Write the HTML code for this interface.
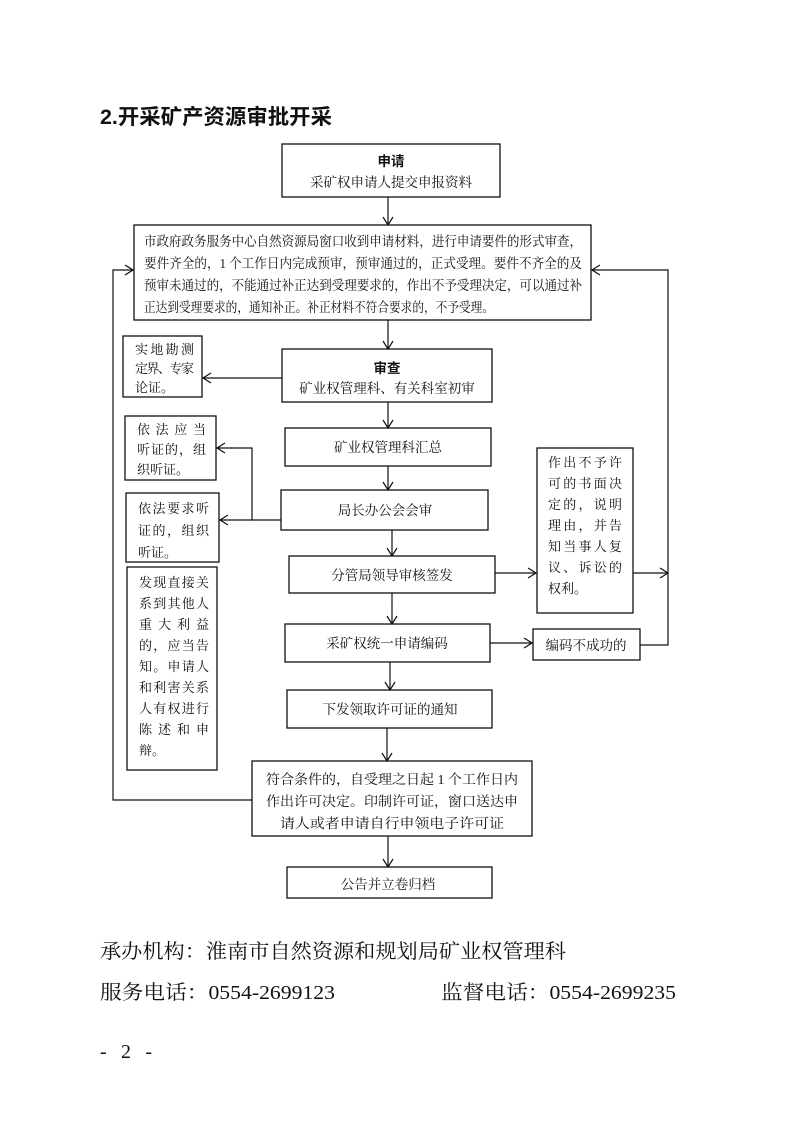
<!DOCTYPE html>
<html><head><meta charset="utf-8"><style>
html,body{margin:0;padding:0;background:#fff}
svg{display:block}
text{font-family:"Liberation Serif","Noto Serif CJK SC","Noto Sans CJK SC",serif;fill:#111}
.s{font-family:"Liberation Sans","Noto Sans CJK SC",sans-serif}
</style></head><body>
<svg width="793" height="1122" viewBox="0 0 793 1122" xmlns="http://www.w3.org/2000/svg">
<defs><marker id="a" markerWidth="10" markerHeight="12" refX="9" refY="6" orient="auto" markerUnits="userSpaceOnUse"><path d="M1,1 L9,6 L1,11" fill="none" stroke="#111" stroke-width="1.2"/></marker></defs>
<text x="100" y="124" font-size="21" font-weight="bold" class="s" textLength="232" lengthAdjust="spacingAndGlyphs">2.开采矿产资源审批开采</text>
<g fill="none" stroke="#111" stroke-width="1.3">
<rect x="282" y="144" width="218" height="53"/>
<rect x="134" y="225" width="457" height="95"/>
<rect x="123" y="336" width="79" height="61"/>
<rect x="282" y="349" width="210" height="53"/>
<rect x="285" y="428" width="206" height="38"/>
<rect x="125" y="416" width="91" height="64"/>
<rect x="281" y="490" width="207" height="40"/>
<rect x="126" y="493" width="93" height="69"/>
<rect x="289" y="556" width="206" height="37"/>
<rect x="537" y="448" width="96" height="165"/>
<rect x="285" y="624" width="205" height="38"/>
<rect x="533" y="629" width="107" height="31"/>
<rect x="127" y="567" width="90" height="203"/>
<rect x="287" y="690" width="205" height="38"/>
<rect x="252" y="761" width="280" height="75"/>
<rect x="287" y="867" width="205" height="31"/>
</g>
<g fill="none" stroke="#111" stroke-width="1.2" marker-end="url(#a)">
<path d="M388 197 V225"/>
<path d="M388 320 V349"/>
<path d="M282 378 H203"/>
<path d="M388 402 V428"/>
<path d="M388 466 V490"/>
<path d="M281 520 H252 V448 H217"/>
<path d="M252 520 H220"/>
<path d="M392 530 V556"/>
<path d="M495 573 H536"/>
<path d="M633 573 H668"/>
<path d="M392 593 V624"/>
<path d="M490 643 H532"/>
<path d="M640 645 H668 V270 H592"/>
<path d="M390 662 V690"/>
<path d="M387 728 V761"/>
<path d="M252 800 H113 V270 H133"/>
<path d="M388 836 V867"/>
</g>
<g font-size="13.5" text-anchor="middle">
<text x="391" y="166" font-weight="bold" class="s">申请</text>
<text x="391" y="187">采矿权申请人提交申报资料</text>
<text x="387" y="373" font-weight="bold" class="s">审查</text>
<text x="387" y="393">矿业权管理科、有关科室初审</text>
<text x="388" y="452">矿业权管理科汇总</text>
<text x="385" y="515">局长办公会会审</text>
<text x="392" y="580">分管局领导审核签发</text>
<text x="387" y="648">采矿权统一申请编码</text>
<text x="586" y="650">编码不成功的</text>
<text x="390" y="714">下发领取许可证的通知</text>
<text x="388" y="889">公告并立卷归档</text>
</g>
<g font-size="13.5">
<text x="144" y="246" textLength="438" lengthAdjust="spacingAndGlyphs">市政府政务服务中心自然资源局窗口收到申请材料，进行申请要件的形式审查，</text>
<text x="144" y="268" textLength="438" lengthAdjust="spacingAndGlyphs">要件齐全的，1 个工作日内完成预审，预审通过的，正式受理。要件不齐全的及</text>
<text x="144" y="290" textLength="438" lengthAdjust="spacingAndGlyphs">预审未通过的，不能通过补正达到受理要求的，作出不予受理决定，可以通过补</text>
<text x="144" y="312" textLength="350" lengthAdjust="spacingAndGlyphs">正达到受理要求的，通知补正。补正材料不符合要求的，不予受理。</text>
</g>
<g font-size="13">
<text x="135" y="354" textLength="59">实地勘测</text>
<text x="135" y="373" textLength="59">定界、专家</text>
<text x="135" y="392">论证。</text>
<text x="137" y="434" textLength="69">依法应当</text>
<text x="137" y="454" textLength="69">听证的，组</text>
<text x="137" y="474">织听证。</text>
<text x="138" y="513" textLength="71">依法要求听</text>
<text x="138" y="535" textLength="71">证的，组织</text>
<text x="138" y="557">听证。</text>
<text x="139" y="587" textLength="70">发现直接关</text>
<text x="139" y="608" textLength="70">系到其他人</text>
<text x="139" y="629" textLength="70">重大利益</text>
<text x="139" y="650" textLength="70">的，应当告</text>
<text x="139" y="671" textLength="70">知。申请人</text>
<text x="139" y="692" textLength="70">和利害关系</text>
<text x="139" y="713" textLength="70">人有权进行</text>
<text x="139" y="734" textLength="70">陈述和申</text>
<text x="139" y="755">辩。</text>
<text x="548" y="467" textLength="74">作出不予许</text>
<text x="548" y="488" textLength="74">可的书面决</text>
<text x="548" y="509" textLength="74">定的，说明</text>
<text x="548" y="530" textLength="74">理由，并告</text>
<text x="548" y="551" textLength="74">知当事人复</text>
<text x="548" y="572" textLength="74">议、诉讼的</text>
<text x="548" y="593">权利。</text>
</g>
<g font-size="13.5">
<text x="266" y="784" textLength="252" lengthAdjust="spacingAndGlyphs">符合条件的，自受理之日起 1 个工作日内</text>
<text x="266" y="806" textLength="252" lengthAdjust="spacingAndGlyphs">作出许可决定。印制许可证，窗口送达申</text>
<text x="280" y="828" textLength="224" lengthAdjust="spacingAndGlyphs">请人或者申请自行申领电子许可证</text>
</g>
<g font-size="20">
<text x="100" y="958" textLength="466" lengthAdjust="spacingAndGlyphs">承办机构：淮南市自然资源和规划局矿业权管理科</text>
<text x="100" y="999" textLength="235" lengthAdjust="spacingAndGlyphs">服务电话：0554-2699123</text>
<text x="441" y="999" textLength="235" lengthAdjust="spacingAndGlyphs">监督电话：0554-2699235</text>
<text x="100" y="1058" textLength="52">- 2 -</text>
</g>
</svg>
</body></html>
